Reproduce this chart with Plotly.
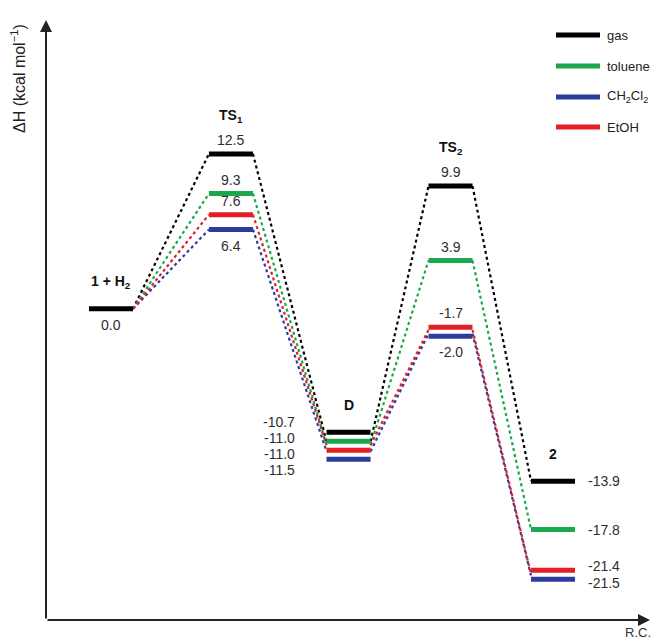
import plotly.graph_objects as go

# ---- data: enthalpies (kcal/mol) along the reaction coordinate ----
stage_labels = ["1 + H<sub>2</sub>", "TS<sub>1</sub>", "D", "TS<sub>2</sub>", "2"]
series_names = ["gas", "toluene", "CH<sub>2</sub>Cl<sub>2</sub>", "EtOH"]
gas = [0.0, 12.5, -10.7, 9.9, -13.9]
toluene = [0.0, 9.3, -11.0, 3.9, -17.8]
ch2cl2 = [0.0, 6.4, -11.5, -2.0, -21.5]
etoh = [0.0, 7.6, -11.0, -1.7, -21.4]

# ---- layout constants ----
W, H = 656, 644
ML, MR, MT, MB = 46, 6, 20, 24
PLOT_W = W - ML - MR
PLOT_H = H - MT - MB
Y_MIN, Y_MAX = -25.1, 23.3
X_MIN, X_MAX = -0.546, 4.529
PPU = PLOT_H / (Y_MAX - Y_MIN)          # pixels per kcal/mol
STAGE_POS = [0.0, 1.008, 1.996, 2.853, 3.714]
HALF = 0.185                             # half width of a level bar
LABEL_MODE = ["below", "above", "left", "above", "right"]
COLORS = ["#000000", "#19a84c", "#2a3c9c", "#e41e26"]
FONT = "Liberation Sans, Arial, sans-serif"
VAL_COLOR = "#2e2e2e"

series = [gas, toluene, ch2cl2, etoh]


def spread(vals, gap):
    """Upward pixel offsets keeping neighbouring levels at least `gap` px apart."""
    order = sorted(range(len(vals)), key=lambda i: -vals[i])
    orig = [-vals[i] * PPU for i in order]
    clusters, cur = [], [0]
    for k in range(1, len(order)):
        if orig[k] - orig[k - 1] < gap:
            cur.append(k)
        else:
            clusters.append(cur)
            cur = [k]
    clusters.append(cur)
    placed = list(orig)
    for cl in clusters:
        pos = []
        for k in cl:
            p = orig[k]
            if pos and p < pos[-1] + gap:
                p = pos[-1] + gap
            pos.append(p)
        shift = sum(orig[k] for k in cl) / len(cl) - sum(pos) / len(pos)
        for k, p in zip(cl, pos):
            placed[k] = p + shift
    off = [0.0] * len(vals)
    for k, i in enumerate(order):
        off[i] = -(placed[k] - orig[k])
    return off


fig = go.Figure()

# dotted connectors between consecutive levels
for name, vals, col in zip(series_names, series, COLORS):
    xs, ys = [], []
    for i in range(len(vals) - 1):
        xs += [STAGE_POS[i] + HALF, STAGE_POS[i + 1] - HALF, None]
        ys += [vals[i], vals[i + 1], None]
    fig.add_trace(go.Scatter(x=xs, y=ys, mode="lines", showlegend=False,
                             name=name, hoverinfo="skip",
                             line=dict(color=col, width=2.2, dash="dot")))

shapes, annots = [], []

for i, pos in enumerate(STAGE_POS):
    vals = [s[i] for s in series]
    if i == 0:
        idx = [0]                  # common reference level
        bar_off = [0.0]
    else:
        idx = list(range(len(series)))
        bar_off = spread(vals, 9)
    offs = dict(zip(idx, bar_off))

    # level bars (gas drawn last so it sits on top)
    for j in reversed(idx):
        shapes.append(dict(type="line", xref="x", yref="y", ysizemode="pixel",
                           yanchor=vals[j], x0=pos - HALF, x1=pos + HALF,
                           y0=offs[j], y1=offs[j],
                           line=dict(color=COLORS[j], width=5)))

    # value labels
    mode = LABEL_MODE[i]
    if mode in ("left", "right"):
        lab_off = spread(vals, 16 if mode == "left" else 17)
        for j in idx:
            annots.append(dict(
                x=pos - HALF if mode == "left" else pos + HALF, y=vals[j],
                xref="x", yref="y", text=f"{vals[j]:.1f}", showarrow=False,
                xanchor="right" if mode == "left" else "left", yanchor="middle",
                xshift=-30 if mode == "left" else 11, yshift=lab_off[j],
                font=dict(family=FONT, size=14, color=VAL_COLOR)))
    else:
        lowest = min(idx, key=lambda j: vals[j])
        for j in idx:
            below = mode == "below" or (j == lowest and len(idx) > 1)
            annots.append(dict(
                x=pos, y=vals[j], xref="x", yref="y", text=f"{vals[j]:.1f}",
                showarrow=False, xanchor="center", yanchor="middle",
                yshift=offs[j] + (-16 if below else 14),
                font=dict(family=FONT, size=14, color=VAL_COLOR)))

    # stage name above the highest level
    top = max(idx, key=lambda j: vals[j] + offs[j] / PPU)
    lift = 38 if stage_labels[i].startswith("TS") else 27
    annots.append(dict(x=pos, y=vals[top], xref="x", yref="y",
                       text=f"<b>{stage_labels[i]}</b>", showarrow=False,
                       xanchor="center", yanchor="middle",
                       yshift=offs[top] + lift,
                       font=dict(family=FONT, size=14, color="#111111")))

# legend: short thick swatches with names
LEG_X0, LEG_X1, LEG_TX = 556, 600, 605
LEG_Y = [35, 66, 97, 127]
for name, col, ly in zip(series_names, COLORS, LEG_Y):
    yp = 1 - (ly - MT) / PLOT_H
    shapes.append(dict(type="line", xref="paper", yref="paper",
                       x0=(LEG_X0 - ML) / PLOT_W, x1=(LEG_X1 - ML) / PLOT_W,
                       y0=yp, y1=yp, line=dict(color=col, width=5)))
    annots.append(dict(x=(LEG_TX - ML) / PLOT_W, y=yp, xref="paper", yref="paper",
                       text=name, showarrow=False, xanchor="left", yanchor="middle",
                       font=dict(family=FONT, size=13, color="#222222")))

# axes drawn as arrows
annots.append(dict(x=0, y=1, xref="paper", yref="paper", ax=0, ay=PLOT_H,
                   axref="pixel", ayref="pixel", text="", showarrow=True,
                   arrowhead=2, arrowsize=1.2, arrowwidth=2, arrowcolor="#222222",
                   standoff=0))
annots.append(dict(x=1, y=0, xref="paper", yref="paper", ax=-PLOT_W, ay=0,
                   axref="pixel", ayref="pixel", text="", showarrow=True,
                   arrowhead=2, arrowsize=1.2, arrowwidth=2, arrowcolor="#222222",
                   standoff=0))

# axis titles
annots.append(dict(x=-0.046, y=0.902, xref="paper", yref="paper",
                   text="ΔH (kcal mol<sup>−1</sup>)", textangle=-90,
                   showarrow=False, xanchor="center", yanchor="middle",
                   font=dict(family=FONT, size=16, color="#222222")))
annots.append(dict(x=0.98, y=-0.02, xref="paper", yref="paper", text="R.C.",
                   showarrow=False, xanchor="center", yanchor="middle",
                   font=dict(family=FONT, size=13, color="#333333")))

fig.update_layout(
    width=W, height=H,
    margin=dict(l=ML, r=MR, t=MT, b=MB),
    paper_bgcolor="white", plot_bgcolor="white",
    shapes=shapes, annotations=annots, showlegend=False,
    xaxis=dict(range=[X_MIN, X_MAX], visible=False, fixedrange=True),
    yaxis=dict(range=[Y_MIN, Y_MAX], visible=False, fixedrange=True),
)

fig.write_html("out.html")
